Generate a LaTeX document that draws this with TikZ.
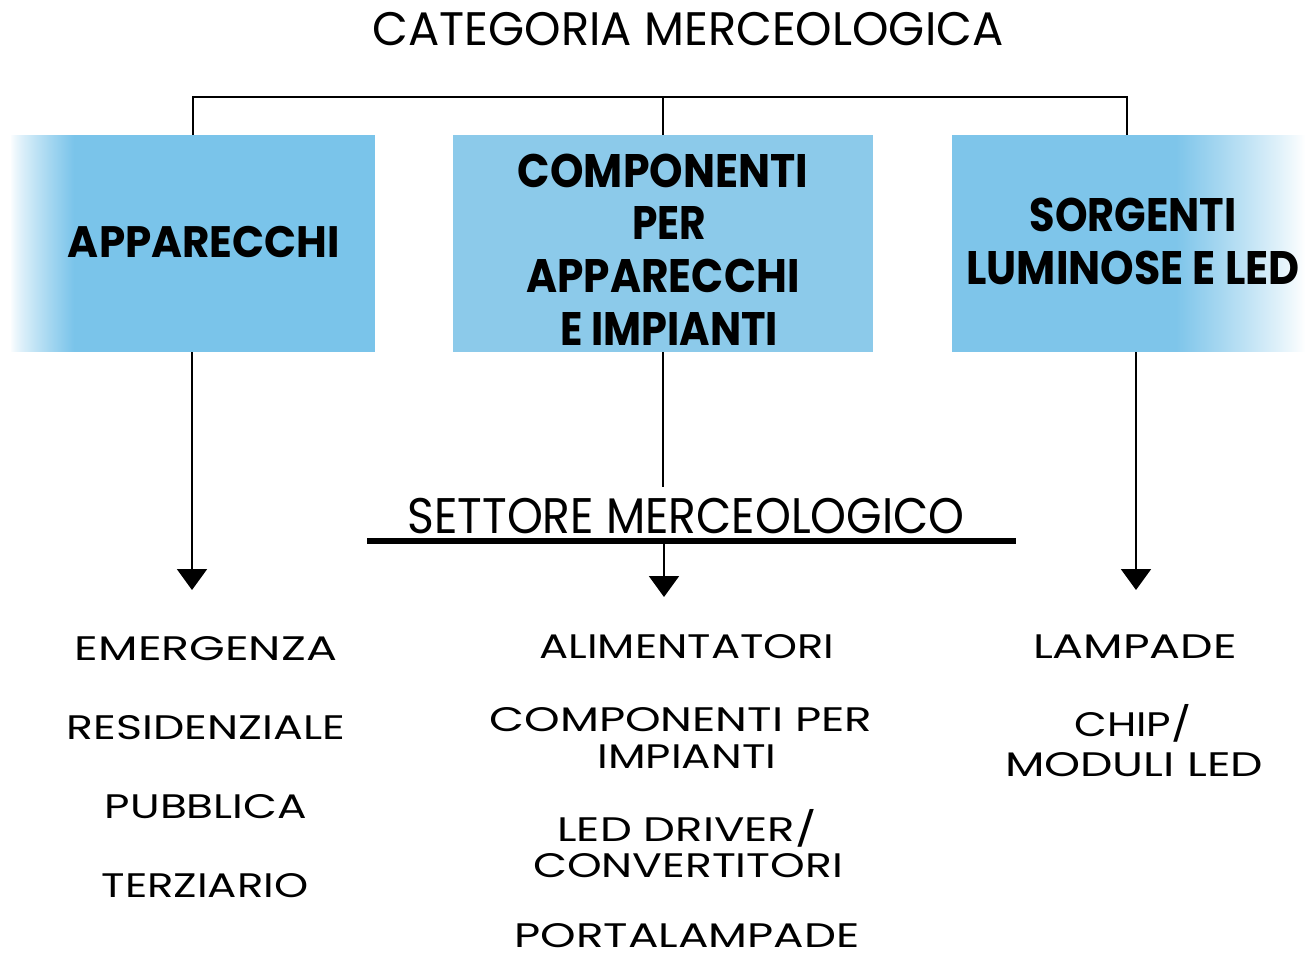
\documentclass[tikz,border=0pt]{standalone}
\usepackage{fontspec}
\setmainfont{Poppins}
\usetikzlibrary{arrows.meta}
\definecolor{blueA}{RGB}{122,196,234}
\definecolor{blueB}{RGB}{140,202,234}
\definecolor{blueC}{RGB}{126,197,234}
\newcommand{\fw}[2]{\resizebox{#1pt}{\height}{#2}}
\tikzset{
  lbl/.style={inner sep=0pt, anchor=base},
  head/.style={lbl, font=\fontsize{47}{47}\selectfont},
  boxtxt/.style={lbl, font=\fontsize{47}{47}\selectfont\bfseries},
  item/.style={lbl, font=\fontsize{34}{34}\selectfont},
  catbox/.style={draw=none, inner sep=0pt},
  conn/.style={line width=2pt, black},
  arr/.style={conn, -{Triangle[width=30pt,length=21pt]}},
}
\begin{document}
\begin{tikzpicture}[x=1pt,y=-1pt]
\path[use as bounding box] (0,0) rectangle (1306,954);

% title
\node[head] (title) at (688,45) {\fw{631}{CATEGORIA MERCEOLOGICA}};

% boxes
\node[catbox, fill=blueA, minimum width=365pt, minimum height=217pt] (box1) at (192.5,243.5) {};
\node[catbox, fill=blueB, minimum width=420pt, minimum height=217pt] (box2) at (663,243.5) {};
\node[catbox, fill=blueC, minimum width=354pt, minimum height=217pt] (box3) at (1129,243.5) {};
% soft fades of the outer boxes
\foreach \i in {0,...,64}{
  \pgfmathsetmacro\p{100*(\i/64)^0.8}
  \fill[blueA!\p!white] (10+\i,135) rectangle (11.5+\i,352);
}
\foreach \i in {0,...,129}{
  \pgfmathsetmacro\p{100*(1-\i/129)^0.9}
  \fill[blueC!\p!white] (1176+\i,135) rectangle (1177.5+\i,352);
}

\node[boxtxt, font=\fontsize{44}{44}\selectfont\bfseries] (t1) at (204,257) {\fw{272}{APPARECCHI}};
\node[boxtxt] (t2a) at (663,187) {\fw{290}{COMPONENTI}};
\node[boxtxt] (t2b) at (669,239) {\fw{74}{PER}};
\node[boxtxt] (t2c) at (663,292) {\fw{273}{APPARECCHI}};
\node[boxtxt] (t2d) at (669,345) {\fw{218}{E IMPIANTI}};
\node[boxtxt] (t3a) at (1133,231) {\fw{207}{SORGENTI}};
\node[boxtxt] (t3b) at (1133,284) {\fw{333}{LUMINOSE E LED}};

% top bus
\coordinate (c1) at (193,97);
\coordinate (c2) at (663,97);
\coordinate (c3) at (1127,97);
\draw[conn] (box1.north -| c1) -- (c1) -- (c3) -- (box3.north -| c3);
\draw[conn] (c2) -- (box2.north);

% settore
\node[lbl, font=\fontsize{50}{50}\selectfont] (settore) at (686,533) {\fw{557}{SETTORE MERCEOLOGICO}};
\node[fill=black, inner sep=0pt, minimum width=649pt, minimum height=6pt] (rule) at (691.5,541) {};

% arrows down
\coordinate (a1) at (192,590);
\coordinate (a2) at (664,597);
\coordinate (a3) at (1136,590);
\draw[arr] (box1.south -| a1) -- (a1);
\draw[conn] (box2.south) -- ([yshift=11pt]settore.north -| box2.south);
\draw[arr] (rule.south -| a2) -- (a2);
\draw[arr] (box3.south -| a3) -- (a3);

% lists
\node[item] (l1) at (206,660) {\fw{262}{EMERGENZA}};
\node[item] (l2) at (206,739) {\fw{278}{RESIDENZIALE}};
\node[item] (l3) at (206,818) {\fw{202}{PUBBLICA}};
\node[item] (l4) at (205,897) {\fw{207}{TERZIARIO}};

\node[item] (m1) at (687,658) {\fw{295}{ALIMENTATORI}};
\node[item] (m2a) at (681,731) {\fw{383}{COMPONENTI PER}};
\node[item] (m2b) at (687,768) {\fw{179}{IMPIANTI}};
\node[item] (m3a) at (687,841) {\fw{259}{LED DRIVER/}};
\node[item] (m3b) at (688,877) {\fw{310}{CONVERTITORI}};
\node[item] (m4) at (687,947) {\fw{345}{PORTALAMPADE}};

\node[item] (r1) at (1135,658) {\fw{204}{LAMPADE}};
\node[item] (r2a) at (1133,736) {\fw{117}{CHIP/}};
\node[item] (r2b) at (1134,776) {\fw{258}{MODULI LED}};
\end{tikzpicture}
\end{document}
